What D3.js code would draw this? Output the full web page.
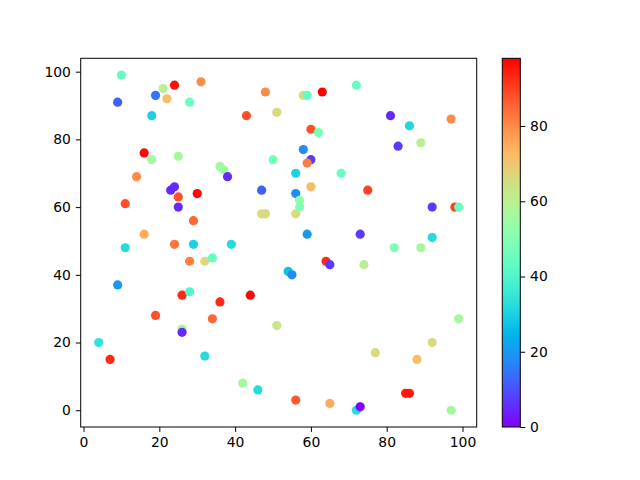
<!DOCTYPE html>
<html>
<head>
<meta charset="utf-8">
<script src="https://cdn.jsdelivr.net/npm/d3@7"></script>
<style>
  body { margin: 0; background: #fff; }
  text { font-family: "DejaVu Sans", sans-serif; font-size: 13.9px; fill: #000; }
</style>
</head>
<body>
<svg id="chart" width="640" height="480"></svg>
<script>
// scatter values (x, y, colour value)
var xs = [10, 21, 24, 31, 9, 19, 22, 28, 18, 48,
          58, 59, 63, 51, 43, 72, 81, 86, 97, 83,
          89, 60, 62, 58, 60, 59, 16, 18, 25, 50,
          68, 56, 14, 36, 37, 38, 23, 24, 25, 30,
          25, 11, 47, 56, 60, 75, 47, 48, 56, 57,
          57, 92, 98, 99, 73, 59, 16, 11, 29, 24,
          39, 29, 82, 89, 92, 28, 32, 34, 54, 55,
          64, 65, 74, 9, 26, 28, 36, 44, 34, 19,
          26, 26, 4, 7, 32, 51, 42, 46, 56, 65,
          72, 73, 77, 88, 92, 85, 86, 97, 99];
var ys = [99, 95, 96, 97, 91, 93, 92, 91, 87, 94,
          93, 93, 94, 88, 87, 96, 87, 84, 86, 78,
          79, 83, 82, 77, 74, 73, 76, 74, 75, 74,
          70, 70, 69, 72, 71, 69, 65, 66, 63, 64,
          60, 61, 65, 64, 66, 65, 58, 58, 58, 62,
          60, 60, 60, 60, 52, 52, 52, 48, 49, 49,
          49, 56, 48, 48, 51, 44, 44, 45, 41, 40,
          44, 43, 43, 37, 34, 35, 32, 34, 27, 28,
          24, 23, 20, 15, 16, 25, 8, 6, 3, 2,
          0, 1, 17, 15, 20, 5, 5, 0, 27];
var cs = [44, 60, 96, 80, 12, 15, 72, 45, 30, 80,
          66, 44, 98, 66, 88, 45, 5, 31, 80, 7,
          60, 88, 48, 18, 7, 82, 97, 56, 56, 47,
          45, 30, 80, 56, 55, 5, 5, 5, 88, 97,
          5, 88, 12, 18, 72, 90, 66, 66, 66, 52,
          50, 7, 90, 45, 7, 20, 75, 32, 30, 83,
          32, 85, 49, 56, 32, 82, 66, 45, 27, 18,
          93, 7, 60, 20, 93, 40, 93, 97, 85, 88,
          56, 5, 34, 93, 32, 63, 56, 32, 87, 75,
          32, 0, 66, 72, 66, 95, 95, 56, 56];
var xTicks = [0, 20, 40, 60, 80, 100];
var yTicks = [0, 20, 40, 60, 80, 100];
var cTicks = [0, 20, 40, 60, 80];

var svg = d3.select("#chart");
var ax = {left: 80.7, right: 476.7, top: 58.3, bottom: 427};
var cb = {left: 502.3, right: 520.3, top: 58.3, bottom: 427};

// matplotlib 'rainbow' colormap
function rainbow(t) {
    t = Math.max(0, Math.min(1, t));
    var r = Math.min(1, Math.abs(2 * t - 0.5));
    var g = Math.sin(Math.PI * t);
    var b = Math.cos(Math.PI * t / 2);
    return d3.rgb(r * 255, g * 255, b * 255).toString();
}

function padded(arr) {
    var lo = d3.min(arr), hi = d3.max(arr), m = (hi - lo) * 0.05;
    return [lo - m, hi + m];
}

var x = d3.scaleLinear().domain(padded(xs)).range([ax.left, ax.right]);
var y = d3.scaleLinear().domain(padded(ys)).range([ax.bottom, ax.top]);
var cMin = d3.min(cs), cMax = d3.max(cs);
var c = d3.scaleLinear().domain([cMin, cMax]).range([0, 1]);
var cy = d3.scaleLinear().domain([cMin, cMax]).range([cb.bottom, cb.top]);

var pts = xs.map(function(v, i) { return {x: v, y: ys[i], c: cs[i]}; });

svg.append("g").selectAll("circle")
    .data(pts)
    .enter().append("circle")
    .attr("cx", function(d) { return x(d.x); })
    .attr("cy", function(d) { return y(d.y); })
    .attr("r", 4.6)
    .attr("fill", function(d) { return rainbow(c(d.c)); });

// frame
svg.append("rect")
    .attr("x", ax.left).attr("y", ax.top)
    .attr("width", ax.right - ax.left).attr("height", ax.bottom - ax.top)
    .attr("fill", "none").attr("stroke", "#000").attr("stroke-width", 1);

var xAxis = svg.append("g")
    .attr("transform", "translate(0," + ax.bottom + ")")
    .call(d3.axisBottom(x).tickValues(xTicks).tickSize(4.9).tickPadding(4.9));
var yAxis = svg.append("g")
    .attr("transform", "translate(" + ax.left + ",0)")
    .call(d3.axisLeft(y).tickValues(yTicks).tickSize(4.9).tickPadding(4.9));
[xAxis, yAxis].forEach(function(g) {
    g.select(".domain").remove();
    g.attr("font-size", null).attr("font-family", null);
});

// colorbar
var grad = svg.append("defs").append("linearGradient")
    .attr("id", "cgrad")
    .attr("x1", 0).attr("y1", 1).attr("x2", 0).attr("y2", 0);
d3.range(0, 1.0001, 0.02).forEach(function(t) {
    grad.append("stop").attr("offset", t).attr("stop-color", rainbow(t));
});
svg.append("rect")
    .attr("x", cb.left).attr("y", cb.top)
    .attr("width", cb.right - cb.left).attr("height", cb.bottom - cb.top)
    .attr("fill", "url(#cgrad)")
    .attr("stroke", "#000").attr("stroke-width", 1);

var cAxis = svg.append("g")
    .attr("transform", "translate(" + cb.right + ",0)")
    .call(d3.axisRight(cy).tickValues(cTicks).tickSize(4.9).tickPadding(4.9));
cAxis.select(".domain").remove();
cAxis.attr("font-size", null).attr("font-family", null);
</script>
</body>
</html>
